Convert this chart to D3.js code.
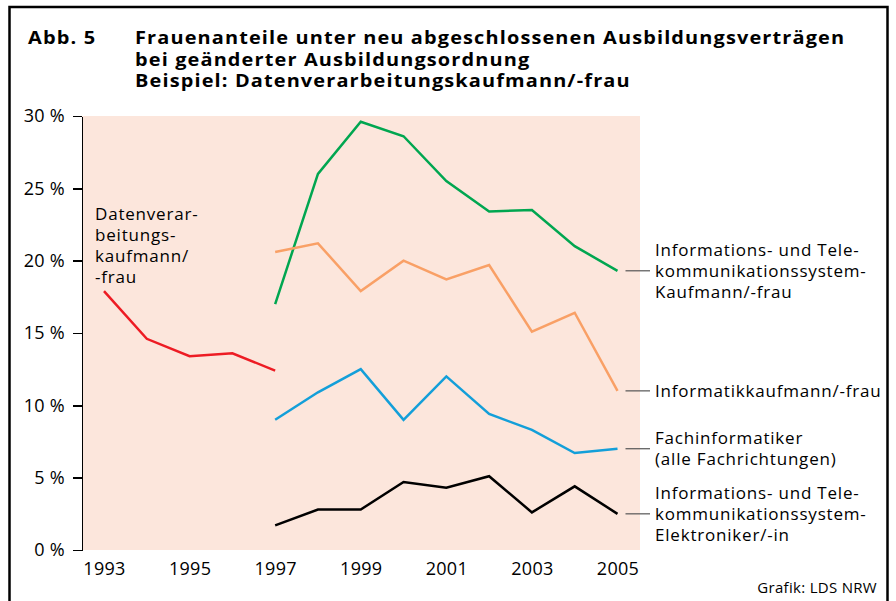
<!DOCTYPE html>
<html lang="de">
<head>
<meta charset="UTF-8">
<title>Frauenanteile Ausbildungsverträge</title>
<script src="https://cdnjs.cloudflare.com/ajax/libs/d3/7.8.5/d3.min.js"></script>
<style>
    body { margin: 0; background: #fff; }
    svg { display: block; font-family: "Open Sans", sans-serif; }
    .axis path, .axis line { stroke: #000; stroke-width: 1.5; shape-rendering: crispEdges; }
    .axis text { font-family: "Open Sans", sans-serif; font-size: 18px; letter-spacing: 0.3px; fill: #000; }
    .lbl { font-size: 17px; letter-spacing: 0.8px; fill: #000; }
    .title { font-size: 17.4px; font-weight: bold; letter-spacing: 1px; fill: #000; }
</style>
</head>
<body>
<script>
const width = 896;
const height = 601;

const yearsOld = [1993, 1994, 1995, 1996, 1997];
const datenverarbeitung = [17.9, 14.6, 13.4, 13.6, 12.4];

const yearsNew = [1997, 1998, 1999, 2000, 2001, 2002, 2003, 2004, 2005];
const itKaufmann = [17.0, 26.0, 29.6, 28.6, 25.5, 23.4, 23.5, 21.0, 19.3];
const informatikKaufmann = [20.6, 21.2, 17.9, 20.0, 18.7, 19.7, 15.1, 16.4, 11.0];
const fachinformatiker = [9.0, 10.9, 12.5, 9.0, 12.0, 9.4, 8.3, 6.7, 7.0];
const itElektroniker = [1.7, 2.8, 2.8, 4.7, 4.3, 5.1, 2.6, 4.4, 2.5];

const xTicks = [1993, 1995, 1997, 1999, 2001, 2003, 2005];
const yTicks = [0, 5, 10, 15, 20, 25, 30];

const titleLines = [
    "Frauenanteile unter neu abgeschlossenen Ausbildungsverträgen",
    "bei geänderter Ausbildungsordnung",
    "Beispiel: Datenverarbeitungskaufmann/-frau"
];
const oldLabel = ["Datenverar-", "beitungs-", "kaufmann/", "-frau"];

const series = [
    { years: yearsNew, values: itKaufmann, color: "#00a650",
      label: ["Informations- und Tele-", "kommunikationssystem-", "Kaufmann/-frau"] },
    { years: yearsNew, values: informatikKaufmann, color: "#f9a066",
      label: ["Informatikkaufmann/-frau"] },
    { years: yearsNew, values: fachinformatiker, color: "#139fd9",
      label: ["Fachinformatiker", "(alle Fachrichtungen)"] },
    { years: yearsNew, values: itElektroniker, color: "#000000",
      label: ["Informations- und Tele-", "kommunikationssystem-", "Elektroniker/-in"] }
];

const plot = { left: 82, right: 640, top: 116, bottom: 550 };

const x = d3.scaleLinear().domain([1993, 2005]).range([104, 617.5]);
const y = d3.scaleLinear().domain([0, 30]).range([plot.bottom, plot.top]);

const svg = d3.select("body").append("svg")
    .attr("width", width)
    .attr("height", height);

// multi-line text as one element with tspans
function block(sel, lines, x0, y0, step) {
    const t = sel.append("text").attr("x", x0).attr("y", y0);
    t.selectAll("tspan")
        .data(lines)
        .enter()
        .append("tspan")
        .attr("x", x0)
        .attr("dy", (d, i) => i === 0 ? 0 : step)
        .text(d => d);
    return t;
}

// frame
svg.append("path")
    .attr("d", "M9.5," + height + " V7 H887.5 V" + height)
    .attr("fill", "none")
    .attr("stroke", "#000")
    .attr("stroke-width", 2.5);

// title (the original face is wider, so stretch a little)
const titleG = svg.append("g");
titleG.append("g")
    .attr("transform", "translate(28,0) scale(1.15,1)")
    .append("text").attr("class", "title")
    .attr("x", 0).attr("y", 44).text("Abb. 5");
block(titleG.append("g").attr("transform", "translate(135,0) scale(1.145,1)"),
      titleLines, 0, 44, 21.7).attr("class", "title");

// plot background
svg.append("rect")
    .attr("x", plot.left)
    .attr("y", plot.top)
    .attr("width", plot.right - plot.left)
    .attr("height", plot.bottom - plot.top)
    .attr("fill", "#fce6dc");

// y axis
const yAxis = d3.axisLeft(y)
    .tickValues(yTicks)
    .tickSize(9)
    .tickSizeOuter(0)
    .tickPadding(8)
    .tickFormat(d => d + "\u00a0%");
svg.append("g")
    .attr("class", "axis")
    .attr("transform", "translate(" + plot.left + ",0)")
    .call(yAxis);

// x axis labels only
const xAxis = d3.axisBottom(x)
    .tickValues(xTicks)
    .tickSize(0)
    .tickPadding(12)
    .tickFormat(d3.format("d"));
svg.append("g")
    .attr("class", "axis")
    .attr("transform", "translate(0," + plot.bottom + ")")
    .call(xAxis)
    .call(g => g.select(".domain").remove());

const line = d3.line()
    .x(d => x(d[0]))
    .y(d => y(d[1]));

// old regulation
svg.append("path")
    .datum(d3.zip(yearsOld, datenverarbeitung))
    .attr("d", line)
    .attr("fill", "none")
    .attr("stroke", "#ed1c24")
    .attr("stroke-width", 2.5);

block(svg, oldLabel, 95, 220, 21).attr("class", "lbl");

// new regulation series
series.forEach(s => {
    const pts = d3.zip(s.years, s.values);
    svg.append("path")
        .datum(pts)
        .attr("d", line)
        .attr("fill", "none")
        .attr("stroke", s.color)
        .attr("stroke-width", 2.5);

    const last = pts[pts.length - 1];
    const ly = y(last[1]);
    svg.append("line")
        .attr("x1", x(last[0]) + 8)
        .attr("x2", 650)
        .attr("y1", ly)
        .attr("y2", ly)
        .attr("stroke", "#555")
        .attr("stroke-width", 1.2);

    const n = s.label.length;
    const mid = n === 1 ? 0 : (n === 2 ? 0.5 : 1);
    block(svg, s.label, 655, ly + 6 - mid * 21, 21).attr("class", "lbl");
});

svg.append("text")
    .attr("x", 877)
    .attr("y", 593)
    .attr("text-anchor", "end")
    .attr("font-size", 15)
    .attr("letter-spacing", 0.3)
    .text("Grafik: LDS NRW");
</script>
</body>
</html>
